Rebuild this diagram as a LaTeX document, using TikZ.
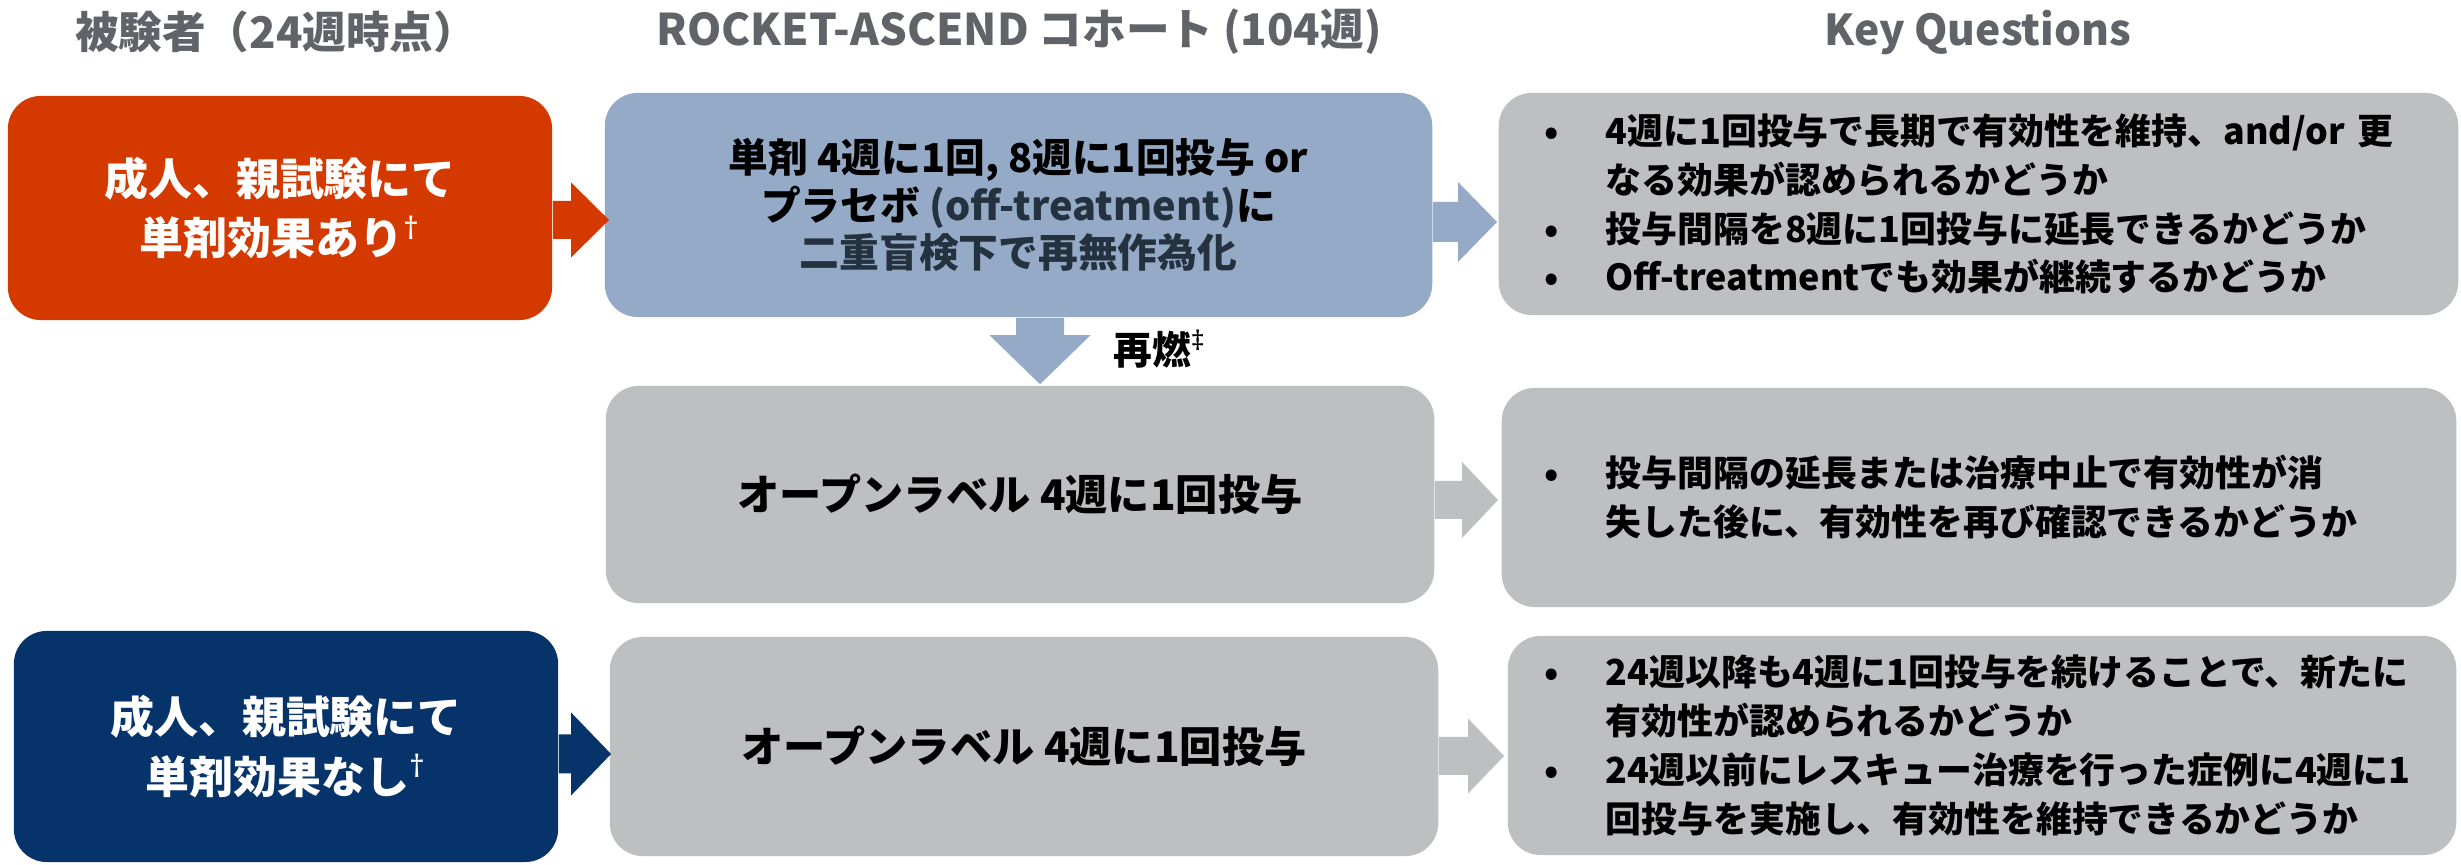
\documentclass[tikz,border=0pt]{standalone}
\usepackage{fontspec}
\setmainfont{Noto Sans CJK JP}
\newfontfamily\latinf{Noto Sans}
\usetikzlibrary{calc}
\definecolor{orgC}{HTML}{D43A00}
\definecolor{bluC}{HTML}{95AAC6}
\definecolor{gryC}{HTML}{BEBFC1}
\definecolor{navC}{HTML}{06336A}
\definecolor{hdrC}{HTML}{606468}
\definecolor{slateC}{HTML}{243240}
\newcommand\harrow[6]{\fill[#1] ($(#2)+(0,-#4)$) -- ($(#3)+(-#6,-#4)$) -- ($(#3)+(-#6,-#5)$) -- (#3) -- ($(#3)+(-#6,#5)$) -- ($(#3)+(-#6,#4)$) -- ($(#2)+(0,#4)$) -- cycle;}
\newcommand\varrow[6]{\fill[#1] ($(#2)+(-#4,0)$) -- ($(#3)+(-#4,-#6)$) -- ($(#3)+(-#5,-#6)$) -- (#3) -- ($(#3)+(#5,-#6)$) -- ($(#3)+(#4,-#6)$) -- ($(#2)+(#4,0)$) -- cycle;}
\newcommand\bul{\makebox[0.61cm][l]{•}}
\newcommand\ind{\hspace*{0.61cm}}
\newcommand\dg{\textsuperscript{\latinf\bfseries †}}
\newcommand\ddg{\textsuperscript{\latinf\bfseries ‡}}
\begin{document}
\begin{tikzpicture}[x=0.01cm,y=-0.01cm,
  card/.style={rounded corners=0.33cm, inner sep=0pt, align=center},
  hdr/.style={text=hdrC, font=\bfseries\fontsize{12.4}{14}\selectfont, inner sep=0pt},
  bigtxt/.style={font=\bfseries\fontsize{12.5}{16.8}\selectfont, text=white},
  qbox/.style={rounded corners=0.33cm, fill=gryC, inner ysep=0pt, align=left, font=\bfseries\fontsize{10.2}{13.9}\selectfont}
]
\useasboundingbox (0,0) rectangle (2461,865);
\fill[white] (0,0) rectangle (2461,865);

% headers
\node[hdr] (h1) at (276,32) {被験者（24週時点）};
\node[hdr] (h2) at (1019,32) {ROCKET-ASCEND コホート (104週)};
\node[hdr, font=\bfseries\fontsize{12.1}{14}\selectfont] (h3) at (1978,32) {Key Questions};

% left boxes
\node[card, bigtxt, fill=orgC, minimum width=5.44cm, minimum height=2.24cm] (o) at (280,208)
  {成人、親試験にて\\単剤効果あり\dg};
\node[card, bigtxt, fill=navC, minimum width=5.44cm, minimum height=2.31cm] (n) at (286,746.5)
  {成人、親試験にて\\単剤効果なし\dg};

% middle boxes
\node[card, fill=bluC, minimum width=8.27cm, minimum height=2.24cm, font=\bfseries\fontsize{11.3}{13.6}\selectfont] (b) at (1018.5,205)
  {単剤 4週に1回, 8週に1回投与 or\\プラセボ \textcolor{slateC}{(off-treatment)}に\\\textcolor{slateC}{二重盲検下で再無作為化}};
\node[card, fill=gryC, minimum width=8.28cm, minimum height=2.17cm, font=\bfseries\fontsize{12}{14}\selectfont] (m) at (1020,494.5)
  {オープンラベル 4週に1回投与};
\node[card, fill=gryC, minimum width=8.28cm, minimum height=2.19cm, font=\bfseries\fontsize{12}{14}\selectfont] (g) at (1024,746.5)
  {オープンラベル 4週に1回投与};

% key question boxes
\node[qbox, inner xsep=0.46cm, text width=8.67cm, minimum height=2.22cm] (k1) at (1978.5,204)
  {\bul 4週に1回投与で長期で有効性を維持、and/or 更\\
   \ind なる効果が認められるかどうか\\
   \bul 投与間隔を8週に1回投与に延長できるかどうか\\
   \bul Off-treatmentでも効果が継続するかどうか};
\node[qbox, inner xsep=0.43cm, text width=8.68cm, minimum height=2.19cm] (k2) at (1979,497.5)
  {\bul 投与間隔の延長または治療中止で有効性が消\\
   \ind 失した後に、有効性を再び確認できるかどうか};
\node[qbox, inner xsep=0.37cm, text width=8.74cm, minimum height=2.19cm] (k3) at (1982,745.5)
  {\bul 24週以降も4週に1回投与を続けることで、新たに\\
   \ind 有効性が認められるかどうか\\
   \bul 24週以前にレスキュー治療を行った症例に4週に1\\
   \ind 回投与を実施し、有効性を維持できるかどうか};

% arrow tips
\coordinate (t1) at ($(b.west)+(5,15)$);
\coordinate (t2) at ($(k1.west)+(-1,18)$);
\coordinate (t3) at ($(m.north)+(20,-1)$);
\coordinate (t4) at ($(k2.west)+(-3,2.5)$);
\coordinate (t5) at ($(g.west)+(2,7.5)$);
\coordinate (t6) at ($(k3.west)+(-3,10.5)$);

\harrow{orgC}{o.east|-t1}{t1}{19}{37.5}{38}
\harrow{bluC}{b.east|-t2}{t2}{20}{40}{39}
\varrow{bluC}{t3|-b.south}{t3}{24}{50.5}{49}
\harrow{gryC}{m.east|-t4}{t4}{19}{38}{36}
\harrow{navC}{n.east|-t5}{t5}{19.5}{41.5}{40}
\harrow{gryC}{g.east|-t6}{t6}{19}{37.5}{36}

\node[font=\bfseries\fontsize{11}{13}\selectfont, inner sep=0pt] (rl) at (1160,349) {再燃\ddg};
\end{tikzpicture}
\end{document}
